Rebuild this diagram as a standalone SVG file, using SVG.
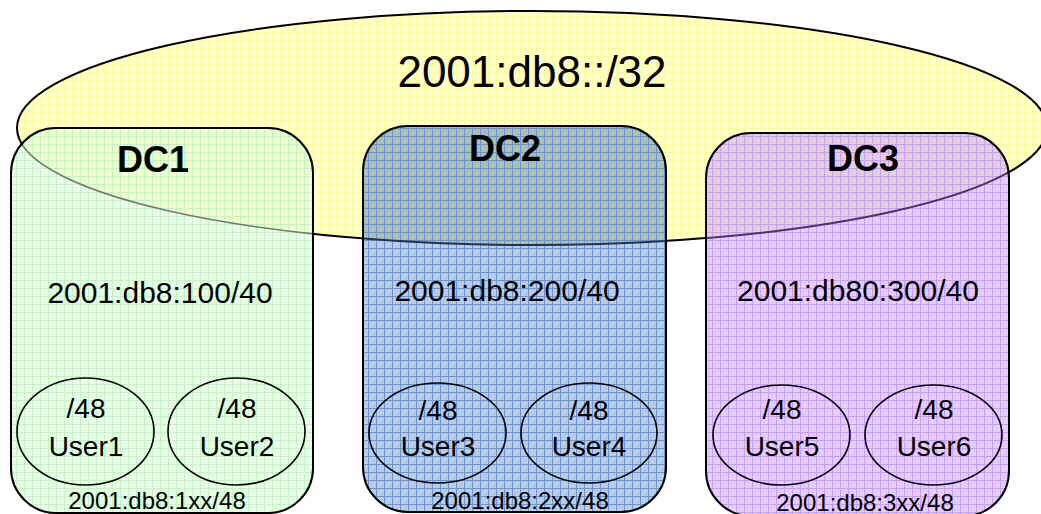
<svg xmlns="http://www.w3.org/2000/svg" width="1041" height="514" viewBox="0 0 1041 514">
  <style>
    text { font-family: "Liberation Sans", Arial, sans-serif; fill: #000; text-anchor: middle; }
    .title { font-size: 44px; }
    .dc { font-size: 36px; font-weight: bold; }
    .net { font-size: 30px; }
    .user { font-size: 28px; }
    .sub { font-size: 24px; }
    .outline { fill: none; stroke: #000; stroke-width: 2; }
    .uell { fill: none; stroke: #000; stroke-width: 1.6; }
  </style>
  <defs>
    <!-- graph-paper fills, one per colour -->
    <pattern id="gridYellow" patternUnits="userSpaceOnUse" width="8" height="8">
      <path d="M0 0.5H8M0.5 0V8" stroke="#ffff99" stroke-width="1"/>
    </pattern>
    <pattern id="gridGreen" patternUnits="userSpaceOnUse" width="8" height="8">
      <path d="M0 0.5H8M0.5 0V8" stroke="#c4f4c4" stroke-width="1"/>
    </pattern>
    <pattern id="gridBlue" patternUnits="userSpaceOnUse" width="8" height="8">
      <path d="M0 0.5H8M0.5 0V8" stroke="#6a94d2" stroke-width="1"/>
    </pattern>
    <pattern id="gridPurple" patternUnits="userSpaceOnUse" width="8" height="8">
      <path d="M0 0.5H8M0.5 0V8" stroke="#c7a0f5" stroke-width="1"/>
    </pattern>
    <clipPath id="clipPrefix">
      <ellipse cx="532" cy="128" rx="515" ry="117"/>
    </clipPath>
    <clipPath id="clipDC1"><rect x="11" y="128" width="302" height="385" rx="45"/></clipPath>
    <clipPath id="clipDC2"><rect x="363" y="126" width="303" height="386" rx="45"/></clipPath>
    <clipPath id="clipDC3"><rect x="706" y="133" width="303" height="383" rx="45"/></clipPath>
  </defs>

  <!-- /32 aggregate -->
  <g id="prefix32">
    <ellipse cx="532" cy="128" rx="515" ry="117" fill="#ffffcc"/>
    <ellipse cx="532" cy="128" rx="515" ry="117" fill="url(#gridYellow)"/>
    <ellipse cx="532" cy="128" rx="515" ry="117" class="outline"/>
    <text class="title" x="532" y="87">2001:db8::/32</text>
  </g>

  <!-- DC1 -->
  <g id="dc1">
    <rect x="11" y="128" width="302" height="385" rx="45" fill="#e6ffe6"/>
    <rect x="11" y="128" width="302" height="385" rx="45" fill="#eeffcc" clip-path="url(#clipPrefix)"/>
    <rect x="11" y="128" width="302" height="385" rx="45" fill="url(#gridGreen)"/>
    <ellipse cx="532" cy="128" rx="515" ry="117" fill="none" stroke="#777" stroke-width="1.6" clip-path="url(#clipDC1)"/>
    <rect x="11" y="128" width="302" height="385" rx="45" class="outline"/>
    <text class="dc" x="153" y="172">DC1</text>
    <text class="net" x="160" y="303">2001:db8:100/40</text>
    <text class="sub" x="157" y="509">2001:db8:1xx/48</text>
  </g>
  <g id="user1">
    <ellipse cx="85.5" cy="431.5" rx="68.5" ry="53.5" class="uell"/>
    <text class="user" x="86" y="418">/48</text>
    <text class="user" x="86" y="456">User1</text>
  </g>
  <g id="user2">
    <ellipse cx="236.5" cy="431.5" rx="68.5" ry="53.5" class="uell"/>
    <text class="user" x="237" y="418">/48</text>
    <text class="user" x="237" y="456">User2</text>
  </g>

  <!-- DC2 -->
  <g id="dc2">
    <rect x="363" y="126" width="303" height="386" rx="45" fill="#b8cce8"/>
    <rect x="363" y="126" width="303" height="386" rx="45" fill="#a9c0b4" clip-path="url(#clipPrefix)"/>
    <rect x="363" y="126" width="303" height="386" rx="45" fill="url(#gridBlue)"/>
    <ellipse cx="532" cy="128" rx="515" ry="117" fill="none" stroke="#1f3250" stroke-width="2" clip-path="url(#clipDC2)"/>
    <rect x="363" y="126" width="303" height="386" rx="45" class="outline"/>
    <text class="dc" x="505" y="161">DC2</text>
    <text class="net" x="507" y="301">2001:db8:200/40</text>
    <text class="sub" x="520" y="509">2001:db8:2xx/48</text>
  </g>
  <g id="user3">
    <ellipse cx="437.5" cy="433" rx="68.5" ry="50" class="uell"/>
    <text class="user" x="438" y="420">/48</text>
    <text class="user" x="438" y="456">User3</text>
  </g>
  <g id="user4">
    <ellipse cx="589" cy="433" rx="68" ry="50" class="uell"/>
    <text class="user" x="589" y="420">/48</text>
    <text class="user" x="589" y="456">User4</text>
  </g>

  <!-- DC3 -->
  <g id="dc3">
    <rect x="706" y="133" width="303" height="383" rx="45" fill="#e4ccff"/>
    <rect x="706" y="133" width="303" height="383" rx="45" fill="#e5cde0" clip-path="url(#clipPrefix)"/>
    <rect x="706" y="133" width="303" height="383" rx="45" fill="url(#gridPurple)"/>
    <ellipse cx="532" cy="128" rx="515" ry="117" fill="none" stroke="#4a3468" stroke-width="2" clip-path="url(#clipDC3)"/>
    <rect x="706" y="133" width="303" height="383" rx="45" class="outline"/>
    <text class="dc" x="863" y="171">DC3</text>
    <text class="net" x="858" y="301">2001:db80:300/40</text>
    <text class="sub" x="865" y="511">2001:db8:3xx/48</text>
  </g>
  <g id="user5">
    <ellipse cx="781.5" cy="435" rx="68.5" ry="50" class="uell"/>
    <text class="user" x="782" y="419">/48</text>
    <text class="user" x="782" y="456">User5</text>
  </g>
  <g id="user6">
    <ellipse cx="933.5" cy="435" rx="68.5" ry="50" class="uell"/>
    <text class="user" x="934" y="419">/48</text>
    <text class="user" x="934" y="456">User6</text>
  </g>

  <!-- no connectors in this drawing -->
  <g id="connectors"/>
</svg>
